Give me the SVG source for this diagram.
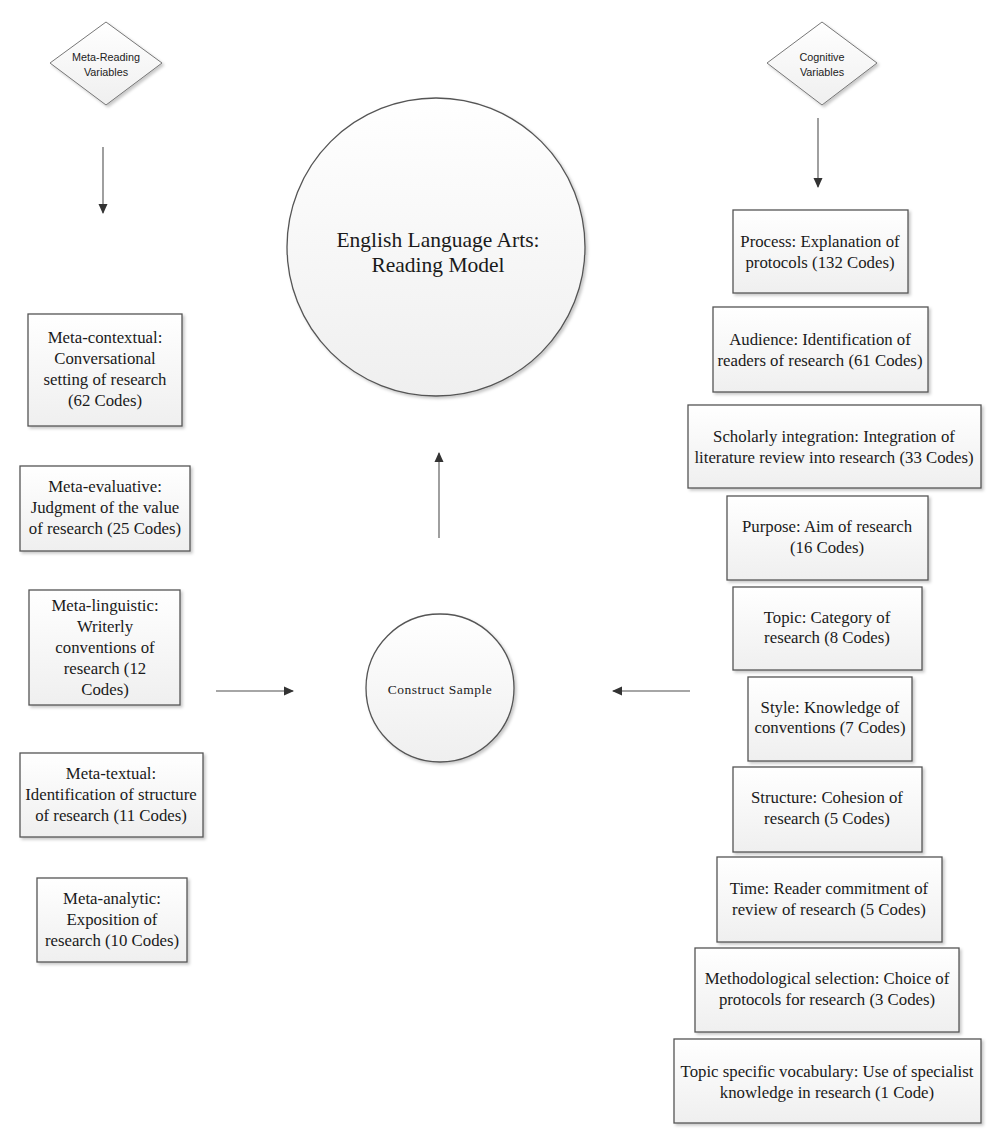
<svg xmlns="http://www.w3.org/2000/svg" width="1000" height="1147" viewBox="0 0 1000 1147">
<style>
.box{fill:url(#g);stroke:#555;stroke-width:1.3;filter:url(#sh)}
.circ{fill:url(#g);stroke:#555;stroke-width:1.3;filter:url(#sh)}
.dia{fill:url(#g);stroke:#777;stroke-width:1;filter:url(#sh)}
.t{font-family:"Liberation Serif","Times New Roman",serif;font-size:16.8px;fill:#1a1a1a;text-anchor:middle}
.tb{font-family:"Liberation Serif","Times New Roman",serif;font-size:21.5px;fill:#1a1a1a;text-anchor:middle}
.ts{font-family:"Liberation Serif","Times New Roman",serif;font-size:13.5px;letter-spacing:0.5px;fill:#1a1a1a;text-anchor:middle}
.td{font-family:"Liberation Sans",Arial,sans-serif;font-size:10.8px;fill:#222;text-anchor:middle}
.c{stroke:#888;stroke-width:1.6;fill:none;marker-end:url(#ah)}
</style>
<defs>
<linearGradient id="g" x1="0" y1="0" x2="0" y2="1">
<stop offset="0" stop-color="#ffffff"/>
<stop offset="1" stop-color="#efefef"/>
</linearGradient>
<filter id="sh" x="-10%" y="-10%" width="125%" height="125%">
<feDropShadow dx="2" dy="2" stdDeviation="1.5" flood-color="#000" flood-opacity="0.22"/>
</filter>
<marker id="ah" viewBox="0 0 10 10" refX="9" refY="5" markerWidth="10" markerHeight="10" markerUnits="userSpaceOnUse" orient="auto">
<path d="M0,0.5 L10,5 L0,9.5 Z" fill="#333"/>
</marker>
</defs>
<rect width="1000" height="1147" fill="#fff"/>

<g id="connectors">
<line class="c" x1="103" y1="147" x2="103" y2="213"/>
<line class="c" x1="818" y1="118" x2="818" y2="187"/>
<line class="c" x1="439" y1="538" x2="439" y2="453"/>
<line class="c" x1="216" y1="691" x2="293" y2="691"/>
<line class="c" x1="690" y1="691" x2="613" y2="691"/>
</g>

<g id="meta-reading-variables">
<polygon class="dia" points="106,22 162,63 106,105 50,63"/>
<text class="td" x="106" y="61">Meta-Reading</text>
<text class="td" x="106" y="76">Variables</text>
</g>
<g id="cognitive-variables">
<polygon class="dia" points="822,22 877,63 822,105 767,63"/>
<text class="td" x="822" y="61">Cognitive</text>
<text class="td" x="822" y="76">Variables</text>
</g>

<g id="ela-reading-model">
<circle class="circ" cx="436" cy="247" r="149"/>
<text class="tb" x="438" y="247">English Language Arts:</text>
<text class="tb" x="438" y="272">Reading Model</text>
</g>
<g id="construct-sample">
<circle class="circ" cx="440" cy="688" r="74"/>
<text class="ts" x="440" y="694">Construct Sample</text>
</g>

<g id="meta-contextual">
<rect class="box" x="28" y="314" width="154" height="112"/>
<text class="t" x="105" y="343">Meta-contextual:</text>
<text class="t" x="105" y="364">Conversational</text>
<text class="t" x="105" y="385">setting of research</text>
<text class="t" x="105" y="406">(62 Codes)</text>
</g>
<g id="meta-evaluative">
<rect class="box" x="20" y="466" width="170" height="85"/>
<text class="t" x="105" y="492">Meta-evaluative:</text>
<text class="t" x="105" y="513">Judgment of the value</text>
<text class="t" x="105" y="534">of research (25 Codes)</text>
</g>
<g id="meta-linguistic">
<rect class="box" x="29" y="590" width="151" height="115"/>
<text class="t" x="105" y="611">Meta-linguistic:</text>
<text class="t" x="105" y="632">Writerly</text>
<text class="t" x="105" y="653">conventions of</text>
<text class="t" x="105" y="674">research (12</text>
<text class="t" x="105" y="695">Codes)</text>
</g>
<g id="meta-textual">
<rect class="box" x="20" y="753" width="183" height="84"/>
<text class="t" x="111" y="779">Meta-textual:</text>
<text class="t" x="111" y="800">Identification of structure</text>
<text class="t" x="111" y="821">of research (11 Codes)</text>
</g>
<g id="meta-analytic">
<rect class="box" x="37" y="878" width="150" height="84"/>
<text class="t" x="112" y="904">Meta-analytic:</text>
<text class="t" x="112" y="925">Exposition of</text>
<text class="t" x="112" y="946">research (10 Codes)</text>
</g>

<g id="process">
<rect class="box" x="733" y="210" width="175" height="83"/>
<text class="t" x="820" y="247">Process: Explanation of</text>
<text class="t" x="820" y="268">protocols (132 Codes)</text>
</g>
<g id="audience">
<rect class="box" x="713" y="307" width="215" height="85"/>
<text class="t" x="820" y="345">Audience: Identification of</text>
<text class="t" x="820" y="366">readers of research (61 Codes)</text>
</g>
<g id="scholarly-integration">
<rect class="box" x="688" y="405" width="293" height="83"/>
<text class="t" x="834" y="442">Scholarly integration: Integration of</text>
<text class="t" x="834" y="463">literature review into research (33 Codes)</text>
</g>
<g id="purpose">
<rect class="box" x="727" y="496" width="201" height="84"/>
<text class="t" x="827" y="532">Purpose: Aim of research</text>
<text class="t" x="827" y="553">(16 Codes)</text>
</g>
<g id="topic">
<rect class="box" x="733" y="587" width="189" height="83"/>
<text class="t" x="827" y="623">Topic: Category of</text>
<text class="t" x="827" y="643">research (8 Codes)</text>
</g>
<g id="style">
<rect class="box" x="748" y="677" width="164" height="84"/>
<text class="t" x="830" y="713">Style: Knowledge of</text>
<text class="t" x="830" y="733">conventions (7 Codes)</text>
</g>
<g id="structure">
<rect class="box" x="733" y="767" width="189" height="85"/>
<text class="t" x="827" y="803">Structure: Cohesion of</text>
<text class="t" x="827" y="824">research (5 Codes)</text>
</g>
<g id="time">
<rect class="box" x="717" y="857" width="225" height="85"/>
<text class="t" x="829" y="894">Time: Reader commitment of</text>
<text class="t" x="829" y="915">review of research (5 Codes)</text>
</g>
<g id="methodological-selection">
<rect class="box" x="695" y="948" width="264" height="84"/>
<text class="t" x="827" y="984">Methodological selection: Choice of</text>
<text class="t" x="827" y="1005">protocols for research (3 Codes)</text>
</g>
<g id="topic-specific-vocabulary">
<rect class="box" x="674" y="1039" width="307" height="84"/>
<text class="t" x="827" y="1077">Topic specific vocabulary: Use of specialist</text>
<text class="t" x="827" y="1098">knowledge in research (1 Code)</text>
</g>
</svg>
